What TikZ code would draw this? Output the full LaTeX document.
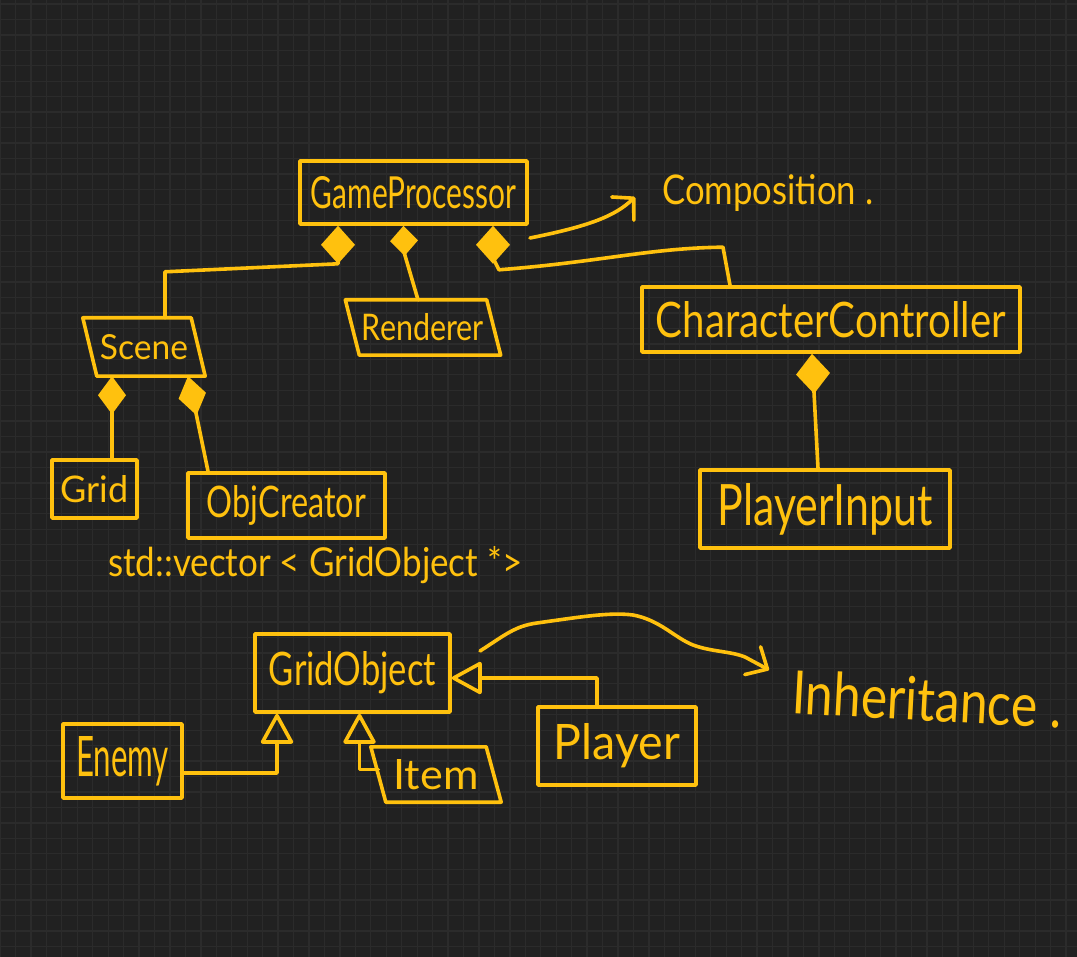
\documentclass[tikz,border=0pt]{standalone}
\usepackage{fontspec}
\setmainfont{Lato}
\usepackage{graphicx}
\usetikzlibrary{arrows.meta,calc}
\definecolor{bg}{HTML}{212121}
\definecolor{gridc}{HTML}{2B2B2B}
\definecolor{pen}{HTML}{FFC10E}
\newcommand{\fitw}[3]{\resizebox{#1pt}{#2pt}{#3}}
\begin{document}
\begin{tikzpicture}[x=1pt,y=-1pt,
  stroke/.style={draw=pen,line width=3.6pt,line cap=round,line join=round},
  box/.style 2 args={stroke,rectangle,minimum width=#1pt,minimum height=#2pt,inner sep=0pt,text=pen},
  pbox/.style 2 args={rectangle,minimum width=#1pt,minimum height=#2pt,inner sep=0pt,text=pen},
  lbl/.style={text=pen,inner sep=0pt},
  comp/.style 2 args={stroke,{Diamond[fill=pen,length=#1pt,width=#2pt]}-},
  inh/.style={stroke,-{Triangle[open,round,length=32pt,width=34pt]}},
  note/.style={stroke,-{Straight Barb[round,length=#1pt,width=32pt]}},
]
\useasboundingbox (0,0) rectangle (1077,957);
\fill[bg] (0,0) rectangle (1077,957);
\foreach \i in {0,...,70} \draw[gridc,line width=1.3pt] (15.45*\i,0) -- (15.45*\i,957);
\foreach \i in {0,...,62} \draw[gridc,line width=1.3pt] (0,4+15.45*\i) -- (1077,4+15.45*\i);

% boxes
\node[box={227}{63}] (gp) at (413.5,192.5) {\fitw{205}{32}{GameProcessor}};
\node[pbox={108}{58}] (scene) at (144,347) {\fitw{88}{25}{Scene}};
\draw[stroke] ($(scene.north west)+(-7,0)$) -- ($(scene.north east)+(-7,0)$) -- ($(scene.south east)+(7,0)$) -- ($(scene.south west)+(7,0)$) -- cycle;
\node[pbox={141}{55}] (renderer) at (423,327.5) {\fitw{122}{27}{Renderer}};
\draw[stroke] ($(renderer.north west)+(-7,0)$) -- ($(renderer.north east)+(-7,0)$) -- ($(renderer.south east)+(7,0)$) -- ($(renderer.south west)+(7,0)$) -- cycle;
\node[box={85}{58}] (grid) at (94.5,489) {\fitw{68}{27}{Grid}};
\node[box={197}{65}] (objc) at (286.5,505.5) {\fitw{159}{32}{ObjCreator}};
\node[box={378}{65}] (cc) at (831,319.5) {\fitw{350}{36}{CharacterController}};
\node[box={250}{78}] (pi) at (825,509) {\fitw{215}{42}{PlayerInput}};
\node[box={195}{78}] (go) at (352.5,673) {\fitw{167}{34}{GridObject}};
\node[box={119}{74}] (enemy) at (122.5,761) {\fitw{93}{40}{Enemy}};
\node[pbox={115}{55}] (item) at (436,774.5) {\fitw{85}{30}{Item}};
\draw[stroke] ($(item.north west)+(-7.5,0)$) -- ($(item.north east)+(-7.5,0)$) -- ($(item.south east)+(7.5,0)$) -- ($(item.south west)+(7.5,0)$) -- cycle;
\node[box={158}{78}] (player) at (617,746) {\fitw{126}{36}{Player}};

% labels
\node[lbl,anchor=west] (lcomp) at (662,193) {\fitw{211}{30}{Composition .}};
\node[lbl,anchor=west,rotate=-3] (linh) at (792,692) {\fitw{270}{44}{Inheritance .}};
\node[lbl,anchor=west] (lvec) at (108,565) {\fitw{414}{30}{std::vector < GridObject *>}};

% composition connectors
\draw[comp={38}{34}] ($(gp.south)+(-75.5,0)$) -- ++(0,38) -- ($(scene.north)+(21,-46)$) -- ($(scene.north)+(21,0)$);
\draw[comp={30}{28}] ($(gp.south)+(-10,0)$) -- ++(1,28) -- ($(renderer.north)+(-5,0)$);
\draw[comp={38}{34}] ($(gp.south)+(79.5,0)$) -- ++(0,32) -- ++(6,12) .. controls (600,262) and (650,248) .. ($(cc.north)+(-108,-38)$) -- ($(cc.north)+(-101,0)$);
\draw[comp={38}{28}] ($(scene.south)+(-32,0)$) -- ($(grid.north)+(17.5,0)$);
\draw[comp={40}{28}] ($(scene.south)+(44,0)$) -- ++(7,32) -- ($(objc.north)+(-78.5,0)$);
\draw[comp={40}{34}] ($(cc.south)+(-19,0)$) -- ($(pi.north)+(-7,0)$);

% inheritance connectors
\draw[inh] ($(enemy.east)+(0,12)$) -| ($(go.south)+(-75.5,0)$);
\draw[inh] ($(item.west)+(0,-5)$) -| ($(go.south)+(7,0)$);
\draw[inh] ($(player.north)+(-20,0)$) |- ($(go.east)+(0,5)$);

% note arrows
\coordinate (ca) at (530,238);
\coordinate (cb) at (635,197);
\draw[note=15] (ca) .. controls (590,226) and (615,216) .. (cb);
\coordinate (ia) at (480,651);
\coordinate (ib) at (769,670);
\draw[note=17] (ia) .. controls (505,635) and (515,626) .. (537,623) .. controls (580,617) and (610,612) .. (633,615) .. controls (660,620) and (675,638) .. (693,645) .. controls (712,652) and (730,651) .. (745,657) .. controls (755,662) .. (ib);
\end{tikzpicture}
\end{document}
